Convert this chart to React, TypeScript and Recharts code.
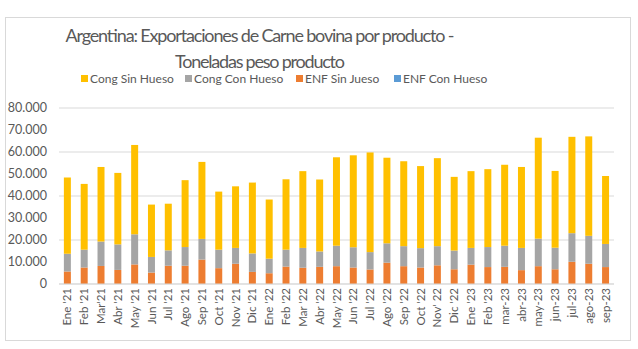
import React from "react";
import { BarChart, Bar, XAxis, YAxis, CartesianGrid, Legend } from "recharts";

const categories = [
  "Ene '21", "Feb '21", "Mar'21", "Abr '21", "May '21", "Jun '21", "Jul '21", "Ago '21", "Sep '21", "Oct '21", "Nov '21", "Dic '21",
  "Ene '22", "Feb '22", "Mar '22", "Abr '22", "May '22", "Jun '22", "Jul '22", "Ago '22", "Sep '22", "Oct '22", "Nov' 22", "Dic '22",
  "Ene '23", "Feb '23", "mar-23", "abr-23", "may-23", "jun-23", "jul-23", "ago-23", "sep-23",
];

// cumulative readings converted to per-series values below
const totals = [
  48400, 45500, 53200, 50500, 63200, 36100, 36500, 47200, 55500, 42000, 44400, 46100,
  38400, 47600, 51300, 47500, 57600, 58500, 59800, 57400, 55800, 53600, 57200, 48700,
  51300, 52200, 54200, 53200, 66500, 51400, 66900, 67100, 49100,
];
const congConTops = [
  13700, 15600, 19300, 18000, 22600, 12300, 15300, 16800, 20500, 15600, 16400, 13900,
  11500, 15600, 16400, 14800, 17400, 16700, 14500, 18500, 17200, 16300, 17200, 15200,
  16400, 16800, 17400, 16400, 20600, 16500, 23100, 21900, 18200,
];
const enfSinJueso = [
  5700, 7500, 8200, 6400, 8900, 5200, 8300, 8300, 11100, 7200, 9200, 5500,
  4900, 7900, 7400, 7800, 8100, 7500, 6600, 9700, 8100, 7500, 8500, 6700,
  8800, 7700, 7800, 6300, 8100, 6700, 10100, 9200, 7700,
];
const enfConHueso = [
  0, 0, 0, 0, 0, 0, 0, 0, 0, 0, 0, 0,
  0, 0, 0, 0, 0, 0, 0, 0, 0, 0, 0, 0,
  0, 0, 0, 0, 0, 0, 0, 0, 0,
];
const congConHueso = congConTops.map((v, i) => v - enfSinJueso[i]);
const congSinHueso = totals.map((v, i) => v - congConTops[i]);

const yTicks = [0, 10000, 20000, 30000, 40000, 50000, 60000, 70000, 80000];

const seriesNames = ["Cong Sin Hueso", "Cong Con Hueso", "ENF Sin Jueso", "ENF Con Hueso"];
const seriesColors = ["#FFC000", "#A5A5A5", "#ED7D31", "#5B9BD5"];

const data = categories.map((c, i) => ({
  name: c,
  enfSin: enfSinJueso[i],
  enfCon: enfConHueso[i],
  congCon: congConHueso[i],
  congSin: congSinHueso[i],
}));

const FONT = "Lato, 'Open Sans', sans-serif";
const TEXT = "#595959";

const fmt = (v: number) =>
  v === 0 ? "0" : String(v).replace(/\B(?=(\d{3})+(?!\d))/g, ".");

const XTick = (props: any) => {
  const { x, y, payload } = props;
  return (
    <g transform={`translate(${x},${y})`}>
      <text
        x={0}
        y={0}
        dy="0.35em"
        textAnchor="end"
        transform="rotate(-90)"
        fill={TEXT}
        fontSize={11.5}
        fontFamily={FONT}
      >
        {payload.value}
      </text>
    </g>
  );
};

const legendX = [81, 185, 296, 394];

const LegendContent = () => (
  <svg width={638} height={16} style={{ overflow: "visible" }}>
    {seriesNames.map((n, i) => (
      <g key={n}>
        <rect x={legendX[i]} y={4} width={7} height={7} fill={seriesColors[i]} />
        <text x={legendX[i] + 9} y={12} fontSize={12} fill={TEXT} fontFamily={FONT}>
          {n}
        </text>
      </g>
    ))}
  </svg>
);

export default function App() {
  return (
    <div
      style={{
        position: "fixed",
        left: 0,
        top: 0,
        width: 638,
        height: 349,
        background: "#fff",
        fontFamily: FONT,
      }}
    >
      <div
        style={{
          position: "absolute",
          left: 5,
          top: 17,
          width: 624,
          height: 322,
          border: "1px solid #D9D9D9",
        }}
      />
      <svg
        width={638}
        height={80}
        style={{ position: "absolute", left: 0, top: 0 }}
      >
        <text
          x={260}
          y={42}
          textAnchor="middle"
          fontSize={18}
          fill={TEXT}
          fontFamily={FONT}
          textLength={389}
          lengthAdjust="spacing"
        >
          Argentina: Exportaciones de Carne bovina por producto -
        </text>
        <text
          x={260}
          y={68}
          textAnchor="middle"
          fontSize={18}
          fill={TEXT}
          fontFamily={FONT}
          textLength={170}
          lengthAdjust="spacing"
        >
          Toneladas peso producto
        </text>
      </svg>
      <div style={{ position: "absolute", left: 0, top: 0 }}>
        <BarChart
          width={638}
          height={349}
          data={data}
          margin={{ top: 89, right: 24, left: 0, bottom: 10 }}
          barCategoryGap="29%"
        >
          <CartesianGrid vertical={false} stroke="#D9D9D9" />
          <XAxis
            dataKey="name"
            interval={0}
            height={55}
            tick={<XTick />}
            tickLine={false}
            tickSize={0}
            tickMargin={4}
            axisLine={{ stroke: "#D9D9D9" }}
          />
          <YAxis
            width={59}
            domain={[0, 80000]}
            ticks={yTicks}
            tickFormatter={fmt}
            axisLine={false}
            tickLine={false}
            tickMargin={6}
            tick={{ fill: TEXT, fontSize: 12.5, fontFamily: FONT }}
          />
          <Legend
            verticalAlign="top"
            content={<LegendContent />}
            wrapperStyle={{ position: "absolute", top: 71, left: 0, width: 638 }}
          />
          <Bar dataKey="enfSin" name={seriesNames[2]} stackId="a" fill={seriesColors[2]} isAnimationActive={false} />
          <Bar dataKey="enfCon" name={seriesNames[3]} stackId="a" fill={seriesColors[3]} isAnimationActive={false} />
          <Bar dataKey="congCon" name={seriesNames[1]} stackId="a" fill={seriesColors[1]} isAnimationActive={false} />
          <Bar dataKey="congSin" name={seriesNames[0]} stackId="a" fill={seriesColors[0]} isAnimationActive={false} />
        </BarChart>
      </div>
    </div>
  );
}
